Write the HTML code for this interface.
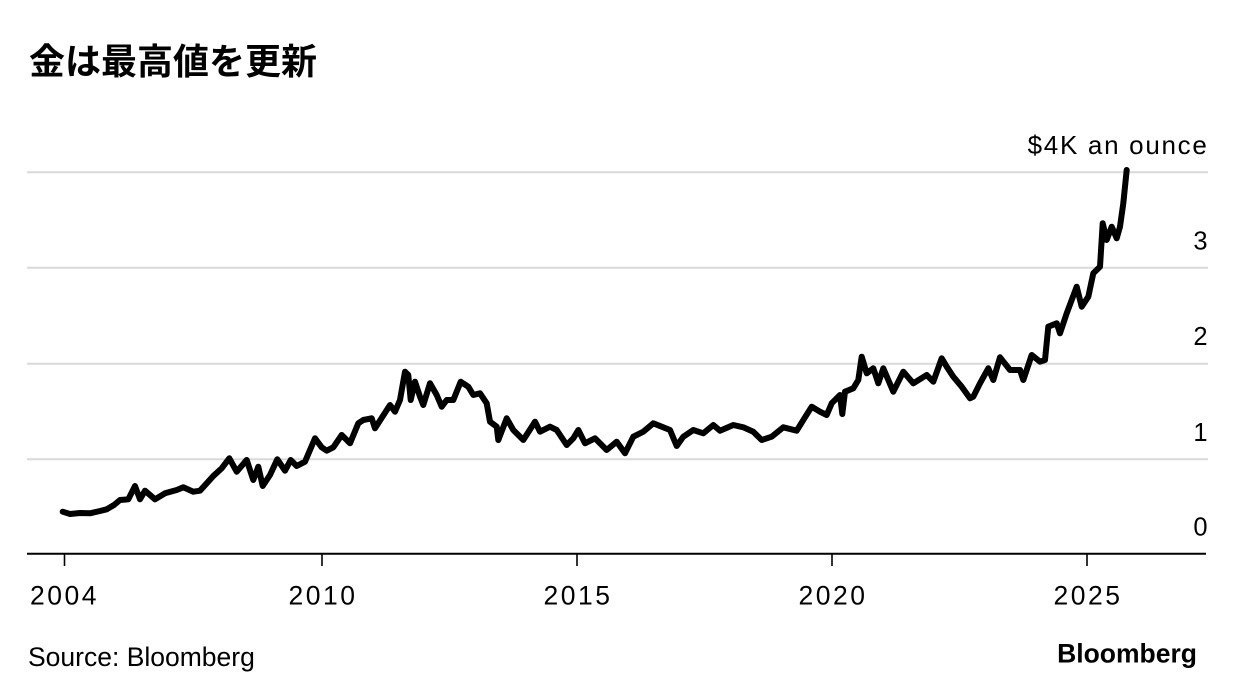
<!DOCTYPE html>
<html>
<head>
<meta charset="utf-8">
<style>
html,body{margin:0;padding:0;background:#fff;}
body{width:1236px;height:698px;overflow:hidden;}
svg{display:block;}
text{font-family:"Liberation Sans","Noto Sans CJK JP",sans-serif;fill:#000;}
</style>
</head>
<body>
<svg width="1236" height="698" viewBox="0 0 1236 698" xmlns="http://www.w3.org/2000/svg">
  <text x="29" y="74" font-size="36" font-weight="bold" style="font-family:'Liberation Sans','Noto Sans CJK JP',sans-serif;">金は最高値を更新</text>

  <!-- gridlines -->
  <g stroke="#d9d9d9" stroke-width="2">
    <line x1="27" y1="172.3" x2="1208" y2="172.3"/>
    <line x1="27" y1="267.7" x2="1208" y2="267.7"/>
    <line x1="27" y1="363.7" x2="1208" y2="363.7"/>
    <line x1="27" y1="459.3" x2="1208" y2="459.3"/>
  </g>

  <!-- right labels -->
  <text x="1208.5" y="154" font-size="26" letter-spacing="1.7" text-anchor="end">$4K an ounce</text>
  <g font-size="25.5" text-anchor="end">
    <text x="1207.5" y="249.5">3</text>
    <text x="1207.5" y="345">2</text>
    <text x="1207.5" y="441">1</text>
    <text x="1207.5" y="535.5">0</text>
  </g>

  <!-- series -->
  <polyline fill="none" stroke="#000" stroke-width="6" stroke-linejoin="round" stroke-linecap="round"
    points="62.7,511.7 70,514 80,513 90,513.3 100,511 106.7,509.3 114,505 120,500 128.3,499.3 135,486 140,499.3 145,490.7 155,499.3 165,493.3 176.7,490 183.3,487.3 193.3,491.7 200,490.7 206.7,483.3 213.3,476 221.7,468.3 229.3,458.3 236.7,471.7 246.7,460 253.3,480 258.3,466.7 262.7,486 270,475 277.3,459.3 285,470.7 290.7,460 296.7,466 305,461.7 315,438.3 321.7,447.3 326.7,450.7 333.3,447.3 341.7,435 350,443.3 358.3,423.3 363.3,420 371.7,418.3 375,428.3 390,405 395,411.7 400,400 405,371.7 408.3,375 410.7,400 415,381.7 420,396.7 423.3,405 430,383.3 436.7,395 441.7,406.7 446.7,400 453.3,400 460.7,381.7 468.3,386.7 473.3,395 480,393.3 486.7,403.3 490,421.7 496.7,426.7 498.3,440 506.7,418.3 513.3,430 523.3,440 535,421.7 540,431.7 550,426.7 556.7,430 566.7,445 573.3,438.3 578.3,430 585,443.3 595,438.3 606.7,450 616.7,441.7 625,453.3 633.3,436.7 643.3,431.7 653.3,423.3 663.3,427.3 670,430 676.7,446 683.3,436.7 693.3,430 703.3,433.3 713.3,425 720,430.7 733.3,425 743.3,427.3 753.3,431.7 761.7,440 771.7,436.7 783.3,427.3 796.7,430.7 805,417.3 811.7,406.7 820,411.7 826.7,415 831.7,403.3 840,395 842.3,414 845,391.7 853.3,388.3 858.3,380 861.7,356.7 866.7,373.3 873.3,368.3 878.3,383.3 883.3,368.3 888.3,380 893.3,391.7 903.3,371.7 913.3,383.3 926.7,375 933.3,381.7 941.7,358.3 946.7,366.7 953.3,376.7 961.7,386.7 970,398.3 973.3,396.7 980,383.3 988.3,368.3 993.3,380 1000,357.3 1010,370 1020,370 1023.3,380 1031.7,355 1040,361.7 1045,360 1048.3,326.7 1056.7,323.3 1060,333.3 1066.7,313.3 1076.7,286.7 1081.7,306.7 1088.3,296.7 1093.3,273.3 1100,266.7 1102.7,223.3 1106.7,240 1111.7,226.7 1116.7,238.3 1120,226.7 1123.3,203.3 1126.7,170"/>

  <!-- x axis -->
  <line x1="27" y1="553.7" x2="1206" y2="553.7" stroke="#000" stroke-width="2"/>
  <g stroke="#000" stroke-width="1.6">
    <line x1="64.5" y1="553.7" x2="64.5" y2="566"/>
    <line x1="322" y1="553.7" x2="322" y2="566"/>
    <line x1="577" y1="553.7" x2="577" y2="566"/>
    <line x1="832" y1="553.7" x2="832" y2="566"/>
    <line x1="1087" y1="553.7" x2="1087" y2="566"/>
  </g>
  <g font-size="26.5" text-anchor="middle" letter-spacing="2.5">
    <text x="64.5" y="604.5">2004</text>
    <text x="323" y="604.5">2010</text>
    <text x="578" y="604.5">2015</text>
    <text x="833" y="604.5">2020</text>
    <text x="1088" y="604.5">2025</text>
  </g>

  <text x="28" y="666" font-size="26.5">Source: Bloomberg</text>
  <text x="1197" y="662.5" font-size="26.5" font-weight="bold" text-anchor="end">Bloomberg</text>
</svg>
</body>
</html>
